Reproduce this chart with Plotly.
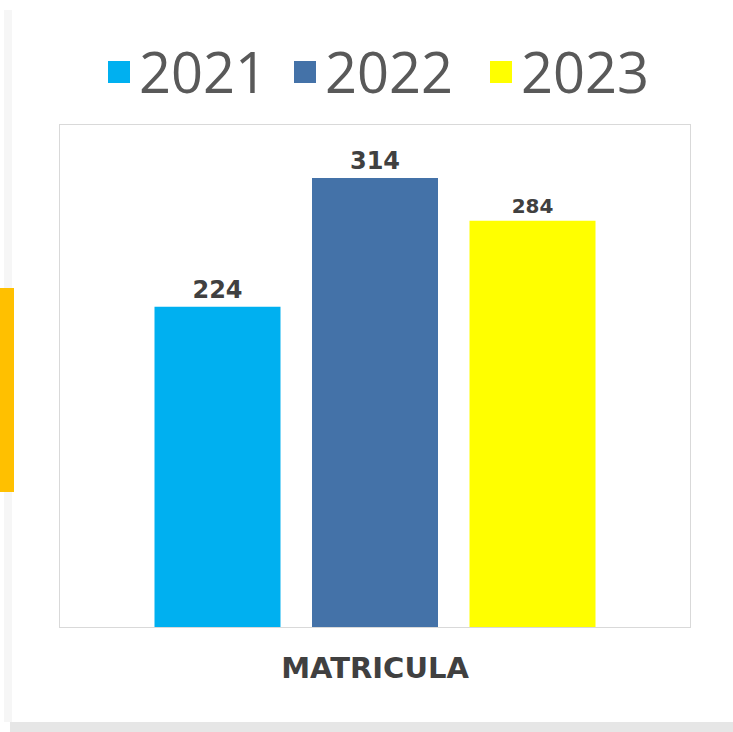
import plotly.graph_objects as go

categories = ["MATRICULA"]
series_names = ["2021", "2022", "2023"]
values_2021 = [224]
values_2022 = [314]
values_2023 = [284]
series_values = [values_2021, values_2022, values_2023]
colors = ["#00B0F0", "#4472A8", "#FFFF00"]
label_sizes = [24, 24, 20]

W, H = 733, 732
ML, MR, MT, MB = 60, 43, 125, 105
pw, ph = W - ML - MR, H - MT - MB

fig = go.Figure()
for name, vals, col, ls in zip(series_names, series_values, colors, label_sizes):
    fig.add_trace(go.Bar(
        x=categories, y=vals, name=name, marker=dict(color=col, line=dict(width=0)),
        text=[str(v) for v in vals], textposition="outside", cliponaxis=False,
        textfont=dict(family="DejaVu Sans", size=ls, color="#404040", weight="bold"),
        showlegend=False,
    ))

def px_x(x):
    return (x - ML) / pw

def px_y(y):
    return (H - MB - y) / ph

shapes = []
annotations = []
# manual legend
leg_x = [108, 294, 490]
for name, col, lx in zip(series_names, colors, leg_x):
    shapes.append(dict(type="rect", xref="paper", yref="paper",
                       x0=px_x(lx), x1=px_x(lx + 22), y0=px_y(83), y1=px_y(61),
                       fillcolor=col, line=dict(width=0)))
    annotations.append(dict(xref="paper", yref="paper", x=px_x(lx + 29), y=px_y(71),
                            xanchor="left", yanchor="middle", showarrow=False, text=name,
                            font=dict(family="Open Sans", size=56, color="#595959")))

# decorative card elements
shapes.append(dict(type="rect", xref="paper", yref="paper", x0=px_x(4), x1=px_x(12),
                   y0=px_y(722), y1=px_y(10), fillcolor="#F6F6F6", line=dict(width=0), layer="below"))
shapes.append(dict(type="rect", xref="paper", yref="paper", x0=px_x(0), x1=px_x(14),
                   y0=px_y(492), y1=px_y(288), fillcolor="#FFC000", line=dict(width=0), layer="below"))
shapes.append(dict(type="rect", xref="paper", yref="paper", x0=px_x(10), x1=px_x(733),
                   y0=px_y(732), y1=px_y(722), fillcolor="#E6E6E6", line=dict(width=0), layer="below"))

fig.update_layout(
    width=W, height=H,
    margin=dict(l=ML, r=MR, t=MT, b=MB, pad=0),
    paper_bgcolor="white", plot_bgcolor="white",
    barmode="group", bargap=0.25, bargroupgap=0.2,
    shapes=shapes, annotations=annotations,
    showlegend=False,
)
fig.update_xaxes(showline=True, mirror=True, linecolor="#D9D9D9", linewidth=1,
                 ticks="", ticklabelstandoff=15,
                 tickfont=dict(family="DejaVu Sans", size=29, color="#404040", weight="bold"))
fig.update_yaxes(range=[0, 351], showline=True, mirror=True, linecolor="#D9D9D9", linewidth=1,
                 showgrid=False, zeroline=False, showticklabels=False, ticks="")

fig.write_html("out.html", config={"displayModeBar": False},
               post_script="document.body.style.margin='0';document.body.style.overflow='hidden';")
